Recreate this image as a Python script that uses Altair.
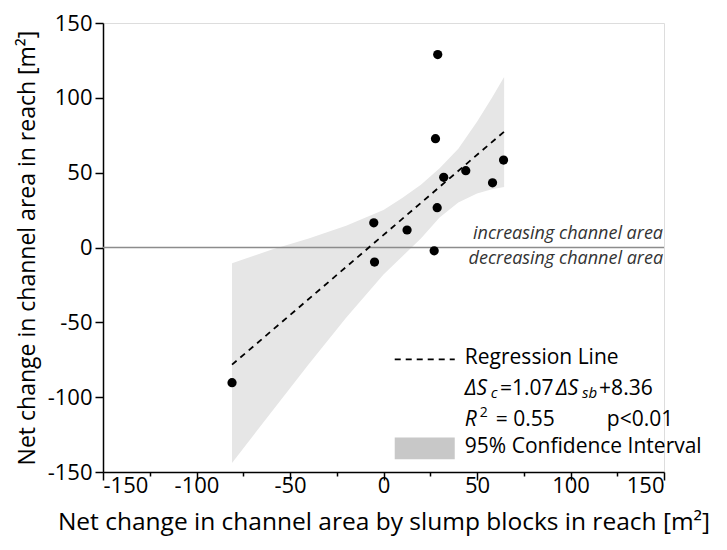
import altair as alt
import pandas as pd

obs_x = [29.0, 27.8, 32.2, 44.0, 64.2, 58.3, 28.7, -5.2, 12.6, 27.1, -4.8, -81.0]
obs_y = [128.9, 72.7, 46.9, 51.3, 58.4, 43.2, 26.6, 16.5, 11.7, -2.2, -9.7, -90.3]

# Regression line end points
reg_x = [-81.0, 64.5]
reg_y = [-78.3, 77.4]

# 95% confidence band outline
band_x = [-81, -60, -40, -20, 0, 10, 20, 30, 40, 50, 58, 64.5]
band_hi = [-10.5, -1.5, 6, 14.5, 25, 33, 42, 53, 66, 84, 100, 114]
band_lo = [-144, -110, -78, -47, -18, -6, 6, 20, 30, 36, 39, 40.5]

ticks = list(range(-150, 151, 25))

FONT = "Open Sans"
DOM = [-150, 150]

pts = pd.DataFrame({"x": obs_x, "y": obs_y})
reg = pd.DataFrame({"x": reg_x, "y": reg_y})
band = pd.DataFrame({"x": band_x, "hi": band_hi, "lo": band_lo})
one = pd.DataFrame({"k": [0]})

xs = alt.Scale(domain=DOM, nice=False, zero=False)
ys = alt.Scale(domain=DOM, nice=False, zero=False)

def mk_axis(title, tsize, tpad, lpad):
    return alt.Axis(
        values=ticks,
        title=title,
        labelExpr="datum.value % 50 === 0 ? toString(datum.value) : ''",
        tickSize={"condition": {"test": "datum.value % 50 === 0", "value": 8}, "value": 4},
        grid=False,
        domainColor="black", domainWidth=1.5,
        tickColor="black", tickWidth=1.5,
        labelFont=FONT, labelFontSize=22, labelColor="black", labelPadding=lpad,
        labelOverlap=False,
        titleFont=FONT, titleFontSize=tsize, titleFontWeight="normal", titleColor="black",
        titlePadding=tpad,
    )

band_layer = alt.Chart(band).mark_area(color="#e6e6e6", opacity=1).encode(
    x=alt.X("x:Q", scale=xs,
            axis=mk_axis("Net change in channel area by slump blocks in reach [m²]", 24.5, 14, -5)),
    y=alt.Y("lo:Q", scale=ys,
            axis=mk_axis("Net change in channel area in reach [m²]", 23, 8, 3)),
    y2="hi:Q",
)

zero_layer = alt.Chart(one).mark_rule(color="#8c8c8c", strokeWidth=1.6).encode(
    y=alt.YDatum(0)
)

reg_layer = alt.Chart(reg).mark_line(color="black", strokeDash=[6, 5], strokeWidth=1.8).encode(
    x="x:Q", y="y:Q"
)

pt_layer = alt.Chart(pts).mark_circle(color="black", opacity=1, size=85).encode(
    x="x:Q", y="y:Q"
)

def txt(s, x, y, size=21, style="normal", align="left", dy=0, color="black"):
    return alt.Chart(one).mark_text(
        text=s, font=FONT, fontSize=size, fontStyle=style, fontWeight="normal",
        align=align, baseline="middle", dy=dy, color=color
    ).encode(x=alt.XDatum(x), y=alt.YDatum(y))

annot = [
    txt("increasing channel area", 149.5, 9.3, size=18, style="italic", align="right", color="#333333"),
    txt("decreasing channel area", 149.5, -8.0, size=18, style="italic", align="right", color="#333333"),
    txt("Regression Line", 43.5, -74.0),
    txt("ΔS", 43.5, -94.5, style="italic"),
    txt("c", 57.3, -94.5, size=15, style="italic", dy=4),
    txt("=1.07", 62.3, -94.5),
    txt("ΔS", 92.3, -94.5, style="italic"),
    txt("sb", 106.2, -94.5, size=15, style="italic", dy=4),
    txt("+8.36", 115.3, -94.5),
    txt("R", 43.5, -115.0, style="italic"),
    txt("2", 51.5, -115.0, size=14, dy=-7),
    txt("= 0.55", 60.0, -115.0),
    txt("p<0.01", 119.4, -115.0),
    txt("95% Confidence Interval", 43.5, -133.5),
]

leg_line = alt.Chart(one).mark_rule(color="black", strokeDash=[6, 5], strokeWidth=1.8).encode(
    x=alt.XDatum(6.0), x2=alt.X2Datum(38.1), y=alt.YDatum(-74.7)
)
leg_rect = alt.Chart(one).mark_rect(color="#c8c8c8").encode(
    x=alt.XDatum(6.0), x2=alt.X2Datum(38.1), y=alt.YDatum(-126.9), y2=alt.Y2Datum(-141.4)
)

chart = alt.layer(
    band_layer, zero_layer, reg_layer, pt_layer, leg_line, leg_rect, *annot
).properties(
    width=561, height=449,
    padding={"left": 95, "top": 15, "right": 55, "bottom": 76},
    autosize=alt.AutoSizeParams(type="none"),
).configure_view(stroke=None).configure(background="white")

chart.save("out.html", embed_options={"renderer": "svg", "actions": False})
